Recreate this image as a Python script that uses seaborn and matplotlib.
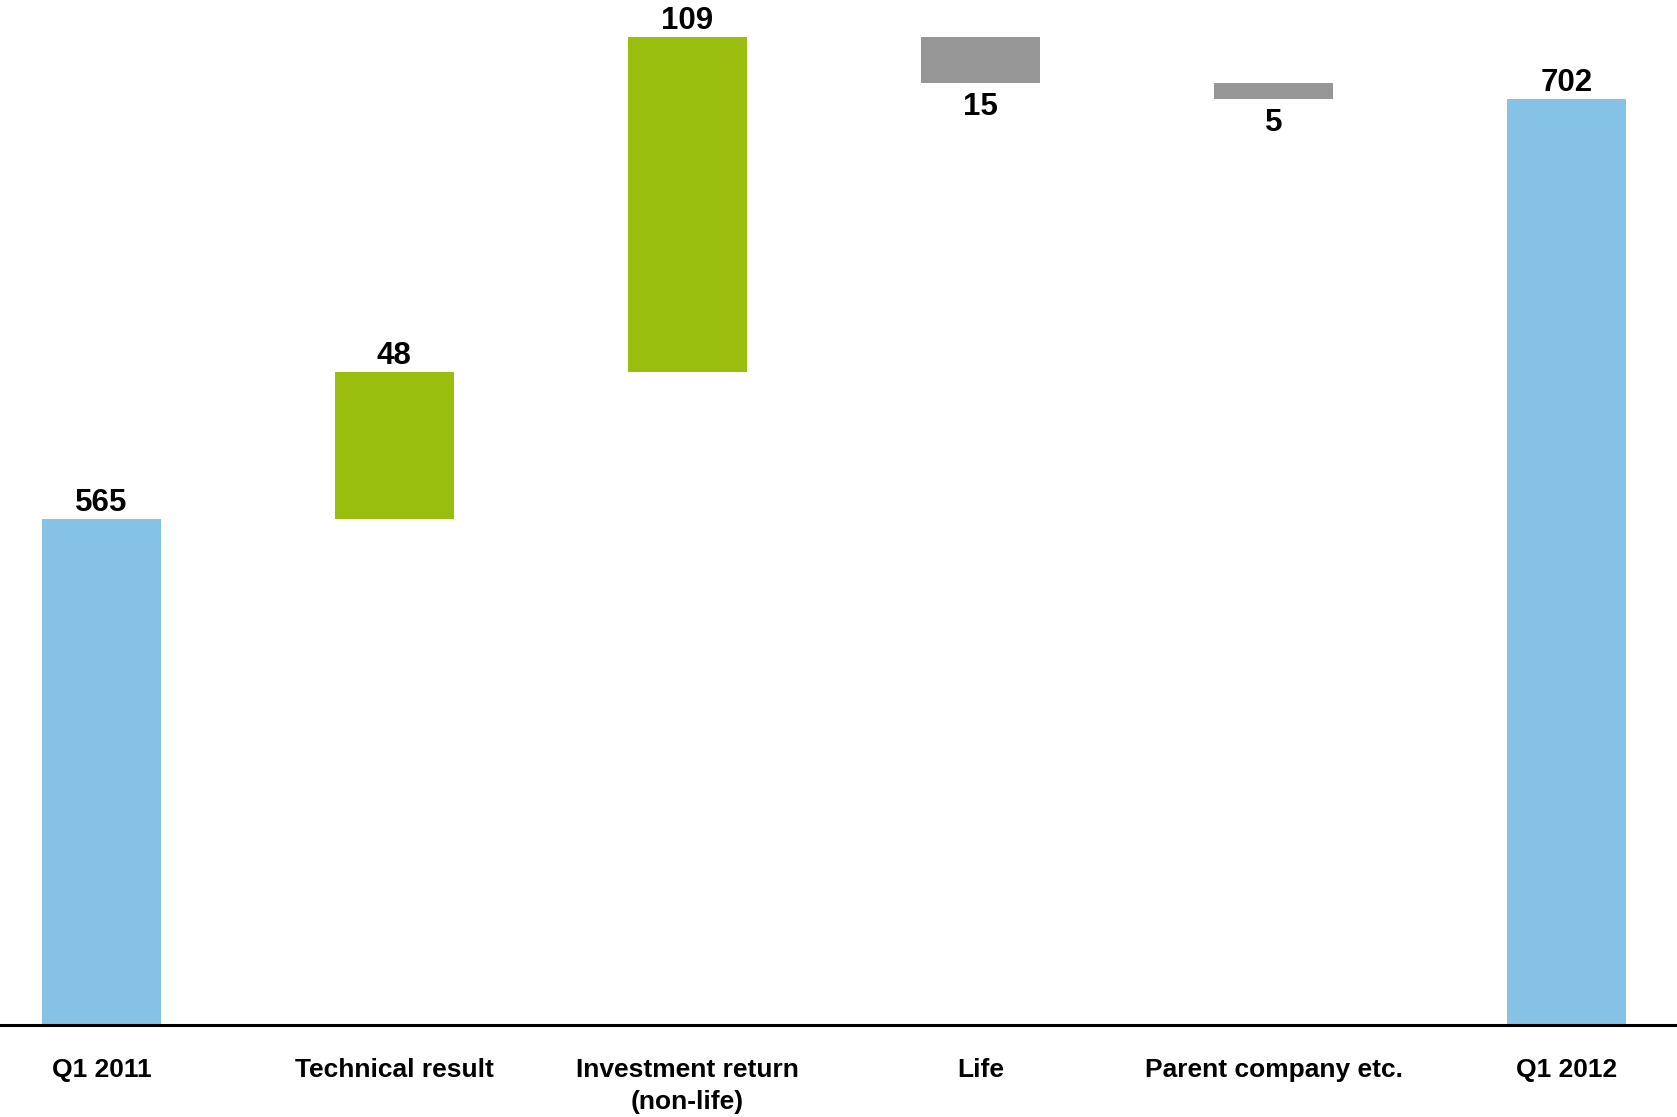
import seaborn as sns
import matplotlib.pyplot as plt

categories = [
    "Q1 2011",
    "Technical result",
    "Investment return\n(non-life)",
    "Life",
    "Parent company etc.",
    "Q1 2012",
]
changes = [565, 48, 109, -15, -5, 702]
kinds = ["total", "delta", "delta", "delta", "delta", "total"]

BLUE = "#86C2E6"
GREEN = "#9ABE0E"
GREY = "#969696"


def main():
    sns.set_theme(style="white")
    plt.rcParams["font.family"] = ["Liberation Sans", "DejaVu Sans"]

    # waterfall geometry
    bottoms, heights, colors = [], [], []
    running = 0
    for val, kind in zip(changes, kinds):
        if kind == "total":
            bottoms.append(0)
            heights.append(val)
            colors.append(BLUE)
            running = val
        else:
            if val >= 0:
                bottoms.append(running)
                heights.append(val)
                colors.append(GREEN)
            else:
                bottoms.append(running + val)
                heights.append(-val)
                colors.append(GREY)
            running += val

    fig = plt.figure(figsize=(16.77, 11.17), dpi=100)
    ax = fig.add_axes([0, 0.0824, 1, 0.9176])

    sns.barplot(x=categories, y=heights, bottom=bottoms, order=categories,
                color=BLUE, width=0.405, saturation=1, ax=ax)
    for patch, c in zip(ax.patches, colors):
        patch.set_facecolor(c)
        patch.set_edgecolor("none")

    for i, (val, b, h) in enumerate(zip(changes, bottoms, heights)):
        if val >= 0:
            ax.annotate(f"{abs(val)}", (i, b + h), xytext=(0, 5.8),
                        textcoords="offset points", ha="center", va="baseline",
                        fontsize=22.5, fontweight="bold", color="black")
        else:
            ax.annotate(f"{abs(val)}", (i, b), xytext=(0, -6.5),
                        textcoords="offset points", ha="center", va="top",
                        fontsize=22.5, fontweight="bold", color="black")

    ax.set_xlim(-0.346, 5.377)
    ax.set_ylim(400, 734.2)
    ax.set_yticks([])
    ax.set_ylabel("")
    ax.tick_params(axis="x", length=0, pad=24)
    ax.set_xticks(range(len(categories)))
    ax.set_xticklabels(categories, fontsize=19, fontweight="bold",
                       multialignment="center", linespacing=1.42,
                       color="black")
    for s in ["left", "top", "right"]:
        ax.spines[s].set_visible(False)
    ax.spines["bottom"].set_color("black")
    ax.spines["bottom"].set_linewidth(2.2)

    fig.savefig("out.png", dpi=100)


if __name__ == "__main__":
    main()
